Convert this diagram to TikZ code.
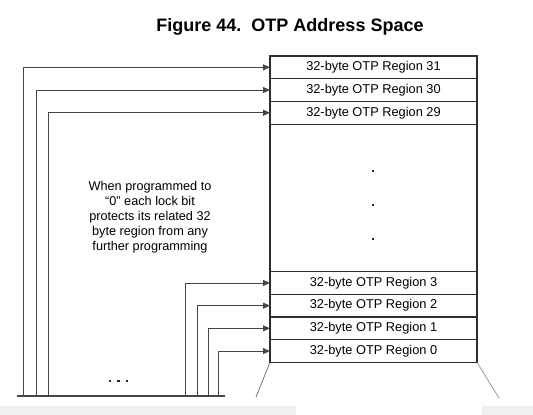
\documentclass[tikz,border=0pt]{standalone}
\usepackage{fontspec}
\setmainfont{Liberation Sans}
\usetikzlibrary{positioning, arrows.meta, backgrounds}
\definecolor{linegray}{RGB}{70,70,70}
\definecolor{boxline}{RGB}{45,45,45}

\begin{document}
\begin{tikzpicture}[
        x=1pt, y=-1pt,
        node distance=0pt,
        title/.style={font=\fontsize{18}{20}\selectfont\bfseries},
        regbox/.style={rectangle, draw=boxline, line width=1.2pt, minimum width=207pt, minimum height=22.7pt,
                       inner sep=0pt, outer sep=0pt, font=\fontsize{12.8}{14}\selectfont},
        arrow/.style={-{Triangle[length=7pt, width=6pt]}, linegray, line width=0.9pt},
        dot/.style={rectangle, fill=black!85, inner sep=0pt, minimum size=2.8pt},
        note/.style={align=center, font=\fontsize{12.7}{15}\selectfont},
    ]

    \useasboundingbox (0,0) rectangle (533,415);

    % ===== Title =====
    \node[title] (TITLE) at (290,27) {Figure 44.\ \ OTP Address Space};

    % ===== OTP regions =====
    \node[regbox, anchor=north west] (R31) at (270,56) {32-byte OTP Region 31};
    \node[regbox, below=of R31] (R30) {32-byte OTP Region 30};
    \node[regbox, below=of R30] (R29) {32-byte OTP Region 29};
    \node[regbox, minimum height=147.5pt, below=of R29] (MID) {};
    \node[regbox, below=of MID] (R3) {32-byte OTP Region 3};
    \node[regbox, below=of R3] (R2) {32-byte OTP Region 2};
    \node[regbox, below=of R2] (R1) {32-byte OTP Region 1};
    \node[regbox, below=of R1] (R0) {32-byte OTP Region 0};

    % dots in the middle part
    \node[dot] (D1) at (373,171) {};
    \node[dot] (D2) at (373,205) {};
    \node[dot] (D3) at (373,239) {};

    % ===== Lock bits bus =====
    \coordinate (BUS_L) at (17,396);
    \coordinate (BUS_R) at (225,396);
    \draw[linegray, line width=1.2pt] (BUS_L) -- (BUS_R);

    \coordinate (L31) at (23,396);
    \coordinate (L30) at (36,396);
    \coordinate (L29) at (48,396);
    \coordinate (L3) at (185,396);
    \coordinate (L2) at (197,396);
    \coordinate (L1) at (208,396);
    \coordinate (L0) at (218,396);

    \draw[arrow] (L31) |- (R31.west);
    \draw[arrow] (L30) |- (R30.west);
    \draw[arrow] (L29) |- (R29.west);
    \draw[arrow] (L3) |- (R3.west);
    \draw[arrow] (L2) |- (R2.west);
    \draw[arrow] (L1) |- (R1.west);
    \draw[arrow] (L0) |- (R0.west);

    \node[dot] (E1) at (110,381) {};
    \node[dot] (E2) at (118.5,381) {};
    \node[dot] (E3) at (127,381) {};

    \node[note] (NOTE) at (150,217)
        {When programmed to\\``0'' each lock bit\\protects its related 32\\byte region from any\\further programming};

    % ===== Expansion lines below region 0 =====
    \coordinate (EXP_L) at (256,397);
    \coordinate (EXP_R) at (499,398);
    \draw[black!60, line width=0.7pt] (R0.south west) -- (EXP_L);
    \draw[black!45, line width=0.7pt] (R0.south east) -- (EXP_R);

    % light strips at the bottom edge
    \begin{scope}[on background layer]
        \fill[black!6] (0,406) rectangle (296,415);
        \fill[black!6] (482,406) rectangle (533,415);
    \end{scope}

\end{tikzpicture}
\end{document}
